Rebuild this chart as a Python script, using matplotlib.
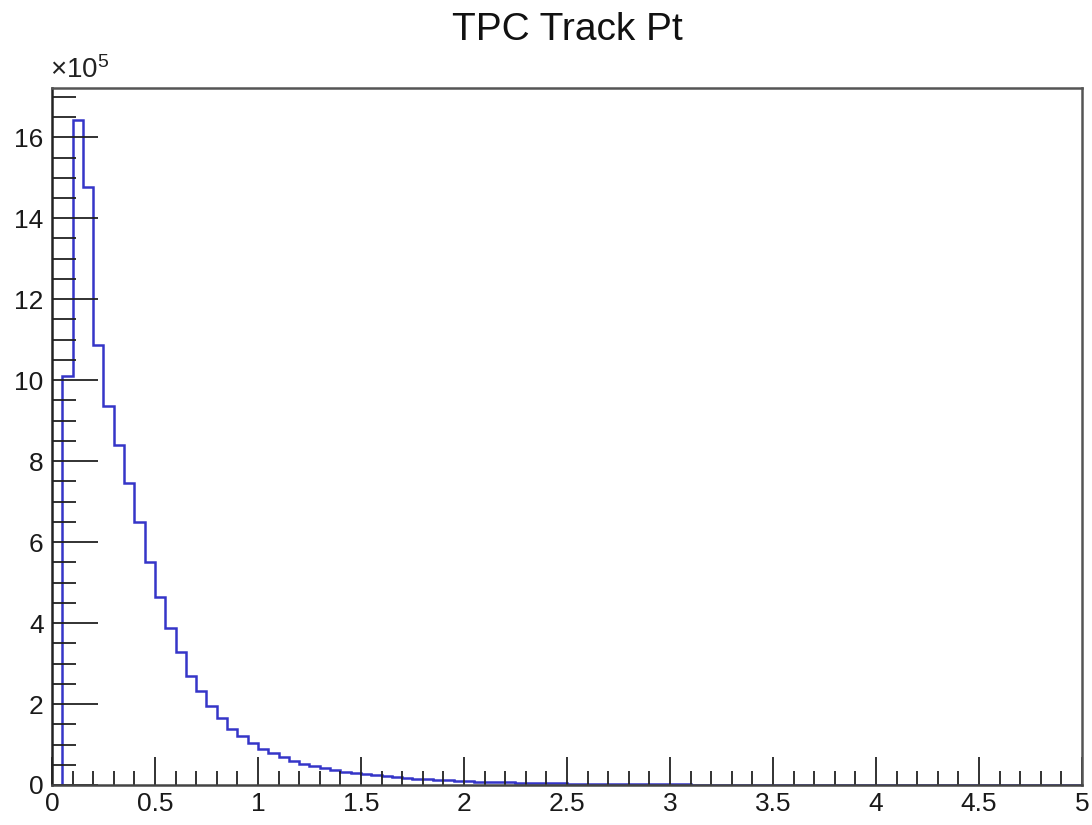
import numpy as np
import matplotlib
matplotlib.use("Agg")
import matplotlib.pyplot as plt
from matplotlib.ticker import MultipleLocator

plt.rcParams['font.family'] = ['Liberation Sans', 'DejaVu Sans']
plt.rcParams['mathtext.fontset'] = 'custom'
plt.rcParams['mathtext.rm'] = 'Liberation Sans'
plt.rcParams['mathtext.default'] = 'regular'

# bin edges: 100 bins of 0.05 from 0 to 5
edges = np.linspace(0, 5, 101)

# counts per bin, in units of 1e5
counts_head = [0.0, 10.1, 16.42, 14.76, 10.86, 9.37, 8.40, 7.46, 6.49, 5.50,
               4.65, 3.89, 3.29, 2.70, 2.32, 1.95, 1.66, 1.38, 1.21, 1.03]
counts_mid = [0.88, 0.78, 0.68, 0.60, 0.53, 0.47, 0.42, 0.37, 0.33, 0.30,
              0.27, 0.24, 0.21, 0.19, 0.17, 0.16, 0.14, 0.13, 0.12, 0.11]
counts_tail = [0.10, 0.085, 0.078, 0.07, 0.065, 0.06, 0.055, 0.045, 0.04, 0.038,
               0.036, 0.034, 0.032, 0.030, 0.028, 0.026, 0.024, 0.022, 0.021, 0.020,
               0.019, 0.018]
counts = counts_head + counts_mid + counts_tail
counts = counts + [0.0] * (100 - len(counts))

fig = plt.figure(figsize=(10.92, 8.25), dpi=100)
ax = fig.add_axes([0.0476, 0.0485, 0.9432, 0.8445])

ax.stairs(counts, edges, color='#3535c8', linewidth=1.8)

ax.set_xlim(0, 5)
ax.set_ylim(0, 17.21)

ax.xaxis.set_major_locator(MultipleLocator(0.5))
ax.xaxis.set_minor_locator(MultipleLocator(0.1))
ax.yaxis.set_major_locator(MultipleLocator(2))
ax.yaxis.set_minor_locator(MultipleLocator(0.5))
ax.xaxis.set_major_formatter(lambda v, p: f"{v:g}")
ax.yaxis.set_major_formatter(lambda v, p: f"{v:g}")

ax.tick_params(axis='both', which='both', direction='in', top=False, right=False,
               color='#222222', labelsize=19, labelcolor='#1a1a1a')
ax.tick_params(axis='x', which='major', length=20, width=1.3, pad=5)
ax.tick_params(axis='x', which='minor', length=10, width=1.3)
ax.tick_params(axis='y', which='major', length=33, width=1.3, pad=6)
ax.tick_params(axis='y', which='minor', length=17, width=1.3)

for s in ax.spines.values():
    s.set_linewidth(1.8)
    s.set_color('#555555')
ax.spines['left'].set_color('#222222')
ax.spines['bottom'].set_color('#444444')

ax.text(-0.002, 1.006, r'×10$^{5}$', transform=ax.transAxes, fontsize=20,
        ha='left', va='bottom', color='#222222')

fig.suptitle('TPC Track Pt', fontsize=28, y=0.985, va='top', x=0.52,
             color='#111111')

fig.savefig('out.png', dpi=100)
